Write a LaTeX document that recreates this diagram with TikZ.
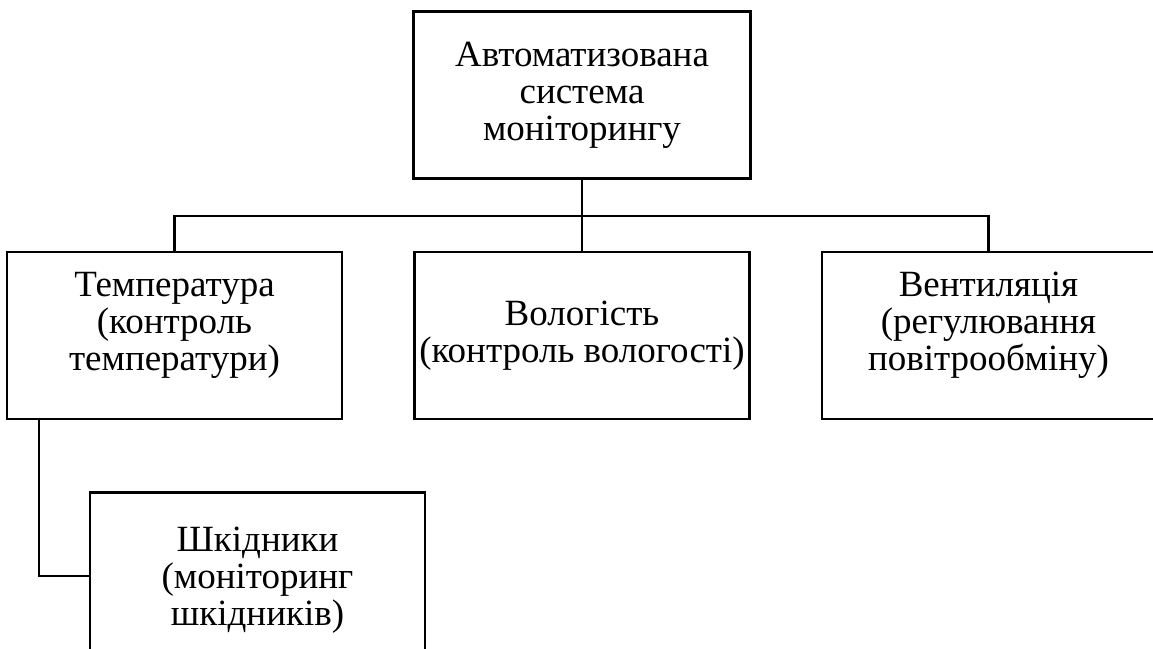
\documentclass[tikz,border=0pt]{standalone}
\usepackage{fontspec}
\setmainfont{Liberation Serif}
\usetikzlibrary{positioning}

\begin{document}
\begin{tikzpicture}[x=1pt,y=1pt,line width=2.5pt,
    block/.style={draw, rectangle, align=center, minimum width=335pt, minimum height=167pt,
        inner sep=0pt, font=\fontsize{37}{37}\selectfont}]
    \useasboundingbox (0,0) rectangle (1153,-648);
    \clip (0,0) rectangle (1153,-648);

    \node[block, minimum width=337pt] (system) at (582,-95) {Автоматизована\\система\\моніторингу};

    \node[block, below=71pt of system] (humid) {Вологість\\(контроль вологості)};
    \node[block, left=70pt of humid, text depth=28pt] (temp) {Температура\\(контроль\\температури)};
    \node[block, right=70pt of humid, minimum width=333pt, text depth=28pt] (vent) {Вентиляція\\(регулювання\\повітрообміну)};

    \node[block, below right=71pt and 83pt of temp.south west, text depth=0pt] (pests) {Шкідники\\(моніторинг\\шкідників)};

    % \draw (system.south) -- ++(0,-35) coordinate (bus);
    \draw (system.south) -- (humid.north);
    \draw (temp.north) -- ++(0,35) -| (vent.north);
    \draw ([xshift=33pt]temp.south west) |- (pests.west);
\end{tikzpicture}
\end{document}
